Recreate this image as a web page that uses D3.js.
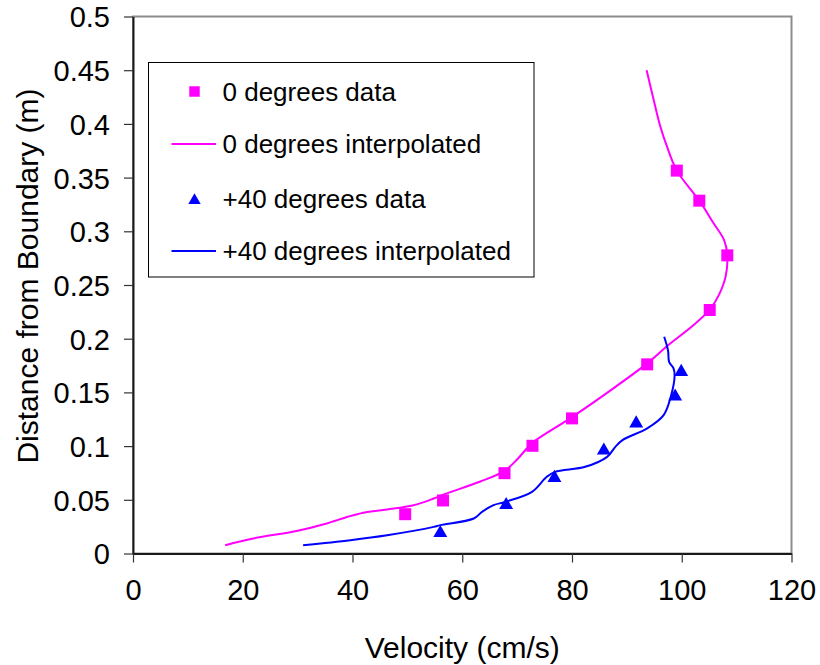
<!DOCTYPE html>
<html>
<head>
<meta charset="utf-8">
<script src="https://cdn.jsdelivr.net/npm/d3@7"></script>
<style>
  html, body { margin: 0; padding: 0; background: #fff; }
  svg { display: block; font-family: "Liberation Sans", Arial, sans-serif; }
</style>
</head>
<body>
<svg id="chart" width="820" height="665"></svg>
<script>
// Measured velocity profiles: velocity (cm/s) against distance from boundary (m)
const xTicks = [0, 20, 40, 60, 80, 100, 120];
const yTicks = [0, 0.05, 0.1, 0.15, 0.2, 0.25, 0.3, 0.35, 0.4, 0.45, 0.5];

// 0 degrees, measured points
const zeroDataVelocity = [49.6, 56.5, 67.7, 72.8, 80.0, 93.7, 105.1, 108.3, 103.2, 99.1];
const zeroDataDistance = [0.0366, 0.0494, 0.0748, 0.1003, 0.1258, 0.1761, 0.2267, 0.2776, 0.3285, 0.3565];

// 0 degrees, interpolated profile
const zeroInterpVelocity = [16.8, 21.9, 29.8, 35.3, 39.0, 42.0, 46.3, 51.1, 54.8, 57.2, 63.3, 67.7, 69.9, 71.8, 73.0, 80.0, 87.6, 93.7, 97.3, 102.0, 105.1, 106.8, 108.0, 108.3, 107.7, 105.8, 103.2, 99.1, 97.3, 96.1, 94.9, 93.6];
const zeroInterpDistance = [0.0077, 0.014, 0.021, 0.028, 0.034, 0.038, 0.041, 0.045, 0.0512, 0.056, 0.067, 0.077, 0.087, 0.098, 0.104, 0.127, 0.154, 0.177, 0.193, 0.212, 0.227, 0.241, 0.258, 0.278, 0.292, 0.3075, 0.3285, 0.3565, 0.379, 0.3975, 0.422, 0.450];

// +40 degrees, measured points
const plus40DataVelocity = [56.0, 68.0, 76.8, 85.8, 91.7, 98.8, 99.9];
const plus40DataDistance = [0.021, 0.047, 0.0723, 0.0978, 0.123, 0.148, 0.171];

// +40 degrees, interpolated profile
const plus40InterpVelocity = [31.0, 39.6, 46.3, 54.8, 56.0, 62.1, 63.6, 65.7, 67.8, 72.7, 75.4, 76.9, 82.4, 86.4, 87.9, 89.2, 93.7, 96.7, 98.0, 98.7, 98.5, 97.7, 97.5, 96.8];
const plus40InterpDistance = [0.0077, 0.0124, 0.017, 0.0248, 0.0264, 0.0326, 0.0388, 0.045, 0.048, 0.0574, 0.0714, 0.076, 0.0807, 0.090, 0.0993, 0.1056, 0.1165, 0.1289, 0.146, 0.166, 0.1724, 0.1785, 0.189, 0.2018];

const legendLabels = ["0 degrees data", "0 degrees interpolated", "+40 degrees data", "+40 degrees interpolated"];

const MAGENTA = "#ff00ff";
const BLUE = "#0000ff";

const svg = d3.select("#chart");
const plot = { left: 133, top: 16.5, right: 791.5, bottom: 553.5 };

const x = d3.scaleLinear().domain([0, 120]).range([plot.left, plot.right]);
const y = d3.scaleLinear().domain([0, 0.5]).range([plot.bottom, plot.top]);

// plot area frame (grey on top and right)
svg.append("rect")
  .attr("x", plot.left).attr("y", plot.top)
  .attr("width", plot.right - plot.left).attr("height", plot.bottom - plot.top)
  .attr("fill", "none").attr("stroke", "#8c8c8c").attr("stroke-width", 2);

// axes
const xAxis = d3.axisBottom(x).tickValues(xTicks).tickSizeInner(9).tickSizeOuter(0).tickPadding(6)
  .tickFormat(d3.format("d"));
const yAxis = d3.axisLeft(y).tickValues(yTicks).tickSizeInner(9).tickSizeOuter(0).tickPadding(14)
  .tickFormat(d => d === 0 ? "0" : String(+d.toFixed(2)));

const gx = svg.append("g").attr("transform", `translate(0,${plot.bottom})`).call(xAxis);
const gy = svg.append("g").attr("transform", `translate(${plot.left},0)`).call(yAxis);

[gx, gy].forEach(g => {
  g.select(".domain").attr("stroke", "#1a1a1a").attr("stroke-width", 2);
  g.selectAll(".tick line").attr("stroke", "#333").attr("stroke-width", 1.2);
  g.selectAll(".tick text").attr("fill", "#000").attr("font-size", 29)
    .attr("font-family", "Liberation Sans, Arial, sans-serif");
});
gx.selectAll(".tick text").attr("dy", null).attr("y", 46);
gy.selectAll(".tick text").attr("dy", "0.36em");

// axis titles
svg.append("text")
  .attr("x", (plot.left + plot.right) / 2).attr("y", 658)
  .attr("text-anchor", "middle").attr("font-size", 30).text("Velocity (cm/s)");

svg.append("text")
  .attr("transform", "translate(38,276) rotate(-90)")
  .attr("text-anchor", "middle").attr("font-size", 30).text("Distance from Boundary (m)");

// interpolated profiles
const line = d3.line()
  .x(d => x(d[0])).y(d => y(d[1]))
  .curve(d3.curveCatmullRom.alpha(0.5));

const zeroInterp = d3.zip(zeroInterpVelocity, zeroInterpDistance);
const plus40Interp = d3.zip(plus40InterpVelocity, plus40InterpDistance);

svg.append("path").datum(zeroInterp)
  .attr("d", line).attr("fill", "none").attr("stroke", MAGENTA).attr("stroke-width", 2);
svg.append("path").datum(plus40Interp)
  .attr("d", line).attr("fill", "none").attr("stroke", BLUE).attr("stroke-width", 2);

// measured points
const squareSym = d3.symbol().type(d3.symbolSquare).size(144);
const triArea = 84;
const triangleSym = d3.symbol().type(d3.symbolTriangle).size(triArea);
// d3 triangles sit on their centroid; shift so the bounding box is centred on the point
const triSide = Math.sqrt(triArea * 4 / Math.sqrt(3));
const triShift = triSide * Math.sqrt(3) / 2 / 6;

svg.append("g").selectAll("path")
  .data(d3.zip(zeroDataVelocity, zeroDataDistance))
  .join("path")
  .attr("transform", d => `translate(${x(d[0])},${y(d[1])})`)
  .attr("d", squareSym).attr("fill", MAGENTA);

svg.append("g").selectAll("path")
  .data(d3.zip(plus40DataVelocity, plus40DataDistance))
  .join("path")
  .attr("transform", d => `translate(${x(d[0])},${y(d[1]) + triShift})`)
  .attr("d", triangleSym).attr("fill", BLUE);

// legend
const legend = svg.append("g");
legend.append("rect")
  .attr("x", 148.5).attr("y", 62.5).attr("width", 385.5).attr("height", 214.5)
  .attr("fill", "#fff").attr("stroke", "#000").attr("stroke-width", 1);

const rows = [91.5, 144, 199, 251];
const entryKinds = ["square", "line", "triangle", "line"];
const entryColors = [MAGENTA, MAGENTA, BLUE, BLUE];

legendLabels.forEach((label, i) => {
  const cy = rows[i];
  if (entryKinds[i] === "square") {
    legend.append("path").attr("transform", `translate(194.5,${cy})`)
      .attr("d", d3.symbol().type(d3.symbolSquare).size(110)).attr("fill", entryColors[i]);
  } else if (entryKinds[i] === "triangle") {
    legend.append("path").attr("transform", `translate(194.5,${cy + 1.5})`)
      .attr("d", d3.symbol().type(d3.symbolTriangle).size(66)).attr("fill", entryColors[i]);
  } else {
    legend.append("line").attr("x1", 171.5).attr("x2", 216).attr("y1", cy).attr("y2", cy)
      .attr("stroke", entryColors[i]).attr("stroke-width", 2);
  }
  legend.append("text").attr("x", 222.5).attr("y", cy).attr("dy", "0.36em")
    .attr("font-size", 26).text(label);
});
</script>
</body>
</html>
